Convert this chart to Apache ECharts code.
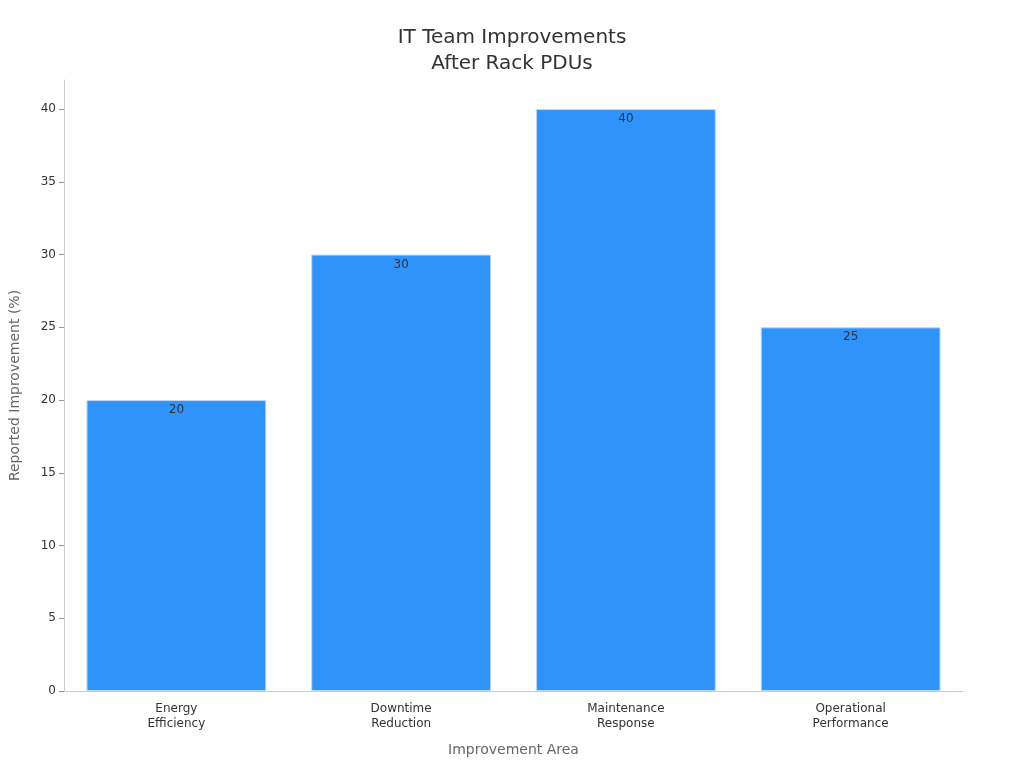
<!DOCTYPE html>
<html>
<head>
<meta charset="utf-8">
<script src="https://cdn.jsdelivr.net/npm/echarts@6/dist/echarts.min.js"></script>
<style>html,body{margin:0;padding:0;background:#fff}#chart{width:1024px;height:768px}</style>
</head>
<body>
<div id="chart"></div>
<script>
const categories = ['Energy\nEfficiency', 'Downtime\nReduction', 'Maintenance\nResponse', 'Operational\nPerformance'];
const improvement = [20, 30, 40, 25];

const chart = echarts.init(document.getElementById('chart'));
chart.setOption({
  animation: false,
  textStyle: {fontFamily: 'DejaVu Sans'},
  title: {
    text: 'IT Team Improvements\nAfter Rack PDUs',
    left: 'center', top: 20,
    textStyle: {fontSize: 20, fontWeight: 'normal', color: '#333', lineHeight: 26, fontFamily: 'DejaVu Sans'}
  },
  grid: {left: 60, right: 61, top: 80, bottom: 77, containLabel: false},
  xAxis: {
    type: 'category',
    data: categories,
    name: 'Improvement Area',
    nameLocation: 'middle',
    nameGap: 52,
    nameTextStyle: {fontSize: 14, color: '#666'},
    axisLine: {lineStyle: {color: '#ccc'}},
    axisTick: {show: false},
    axisLabel: {fontSize: 12, color: '#333', lineHeight: 15, margin: 10}
  },
  yAxis: {
    type: 'value',
    min: 0, max: 42, interval: 5,
    name: 'Reported Improvement (%)',
    nameLocation: 'middle',
    nameGap: 42,
    nameTextStyle: {fontSize: 14, color: '#666'},
    axisLine: {show: true, lineStyle: {color: '#ccc'}},
    axisTick: {show: true, lineStyle: {color: '#999'}},
    axisLabel: {fontSize: 12, color: '#333', showMaxLabel: false},
    splitLine: {show: false}
  },
  series: [{
    type: 'bar',
    data: improvement,
    barCategoryGap: '20%',
    itemStyle: {color: '#2E93FA', borderColor: '#BBD8F8', borderWidth: 1},
    label: {show: true, position: 'insideTop', color: '#333', fontSize: 12, distance: 4}
  }]
});
</script>
</body>
</html>
